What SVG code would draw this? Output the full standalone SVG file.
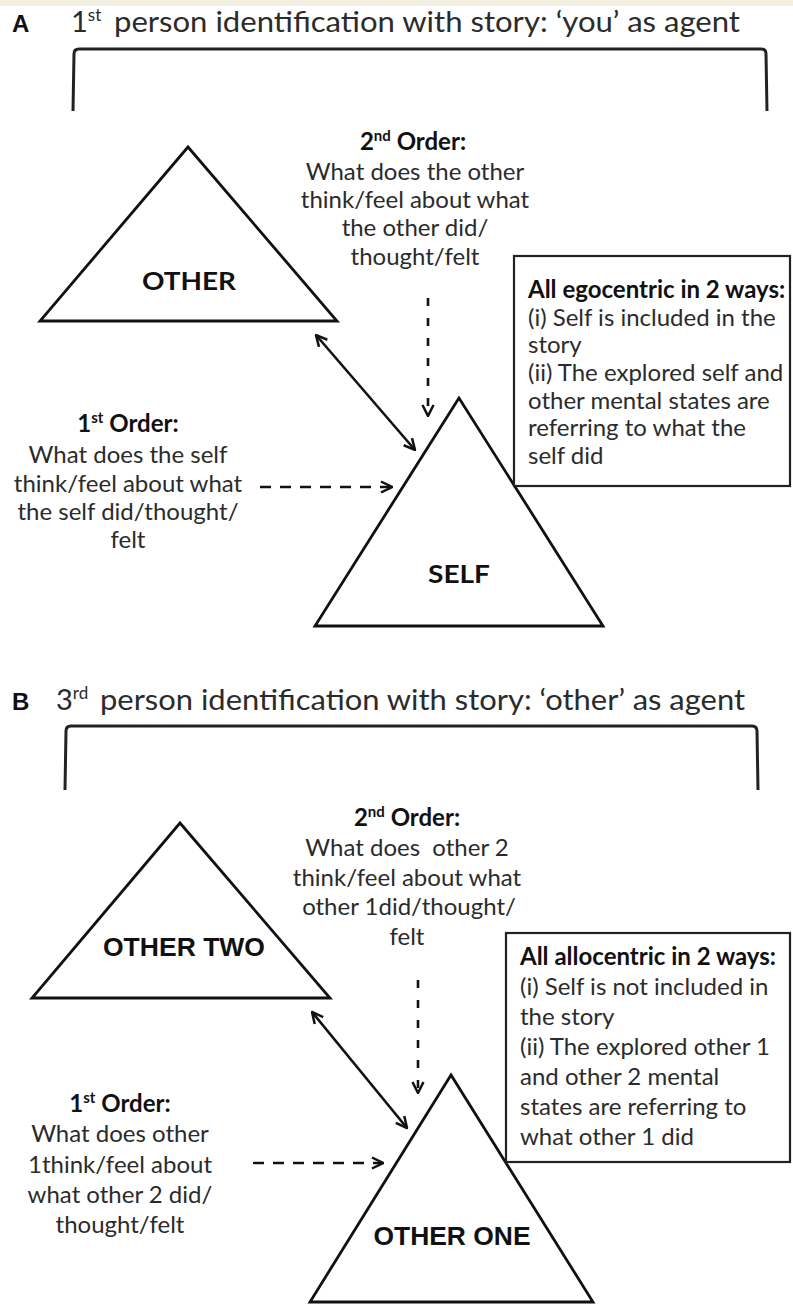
<svg xmlns="http://www.w3.org/2000/svg" width="793" height="1305" viewBox="0 0 793 1305">
<style>
.t{font-family:Lato,"Open Sans",sans-serif;font-size:24px;fill:#2b2b2b}
.b{font-weight:bold;fill:#111}
.ttl{font-family:Lato,"Open Sans",sans-serif;font-size:29px;fill:#2b2b2b}
.lab{font-family:"Liberation Sans",Arial,sans-serif;font-weight:bold;font-size:24px;fill:#111}
.ar{font-family:"Liberation Sans",Arial,sans-serif;font-weight:bold;font-size:25px;fill:#111}
.tri{fill:#fff;stroke:#111;stroke-width:2.8;stroke-linejoin:miter}
.box{fill:#fff;stroke:#222;stroke-width:2.2}
.br{fill:none;stroke:#222;stroke-width:3}
.c{fill:none;stroke:#111;stroke-width:2.6}
.d{fill:none;stroke:#111;stroke-width:2.3;stroke-dasharray:11 9}
.dv{fill:none;stroke:#111;stroke-width:2.6;stroke-dasharray:8 12}
</style>
<defs>
<marker id="ah" viewBox="0 0 14 14" refX="13" refY="7" markerWidth="14" markerHeight="14" markerUnits="userSpaceOnUse" orient="auto-start-reverse">
<path d="M2,1.5 L13,7 L2,12.5" fill="none" stroke="#111" stroke-width="2.5"/>
</marker>
</defs>
<rect x="0" y="0" width="793" height="1305" fill="#fff"/>
<rect x="0" y="0" width="793" height="6" fill="#f4f0e1"/>

<g id="panelA-title">
<text class="lab" x="12" y="32">A</text>
<text class="ttl" x="71" y="32">1<tspan font-size="17" dy="-11">st</tspan></text>
<text class="ttl" x="114" y="32" textLength="626" lengthAdjust="spacingAndGlyphs">person identification with story: ‘you’ as agent</text>
<path class="br" d="M73,111 L74,54 Q74,49 79,49 L761,49 Q766,49 766,54 L767,111"/>
</g>

<g id="other">
<polygon class="tri" points="188,147 40,321 337,321"/>
<text class="t b" x="189" y="290" text-anchor="middle" font-size="29" textLength="94" lengthAdjust="spacingAndGlyphs">OTHER</text>
</g>
<g id="self">
<polygon class="tri" points="459,398 315,626 603,626"/>
<text class="t b" x="459" y="583" text-anchor="middle" font-size="29" textLength="62" lengthAdjust="spacingAndGlyphs">SELF</text>
</g>

<g id="secondOrderA">
<text class="t b" x="413" y="150" text-anchor="middle">2<tspan font-size="15" dy="-9">nd</tspan><tspan dy="9"> Order:</tspan></text>
<text class="t" x="415" y="180" text-anchor="middle">What does the other</text>
<text class="t" x="415" y="208" text-anchor="middle">think/feel about what</text>
<text class="t" x="415" y="236" text-anchor="middle">the other did/</text>
<text class="t" x="415" y="265" text-anchor="middle">thought/felt</text>
</g>

<g id="firstOrderA">
<text class="t b" x="128" y="432" text-anchor="middle">1<tspan font-size="15" dy="-9">st</tspan><tspan dy="9"> Order:</tspan></text>
<text class="t" x="128" y="463" text-anchor="middle">What does the self</text>
<text class="t" x="128" y="492" text-anchor="middle">think/feel about what</text>
<text class="t" x="128" y="520" text-anchor="middle">the self did/thought/</text>
<text class="t" x="128" y="548" text-anchor="middle">felt</text>
</g>

<g id="boxA">
<rect class="box" x="514" y="256" width="276" height="230"/>
<text class="t b" x="528" y="298">All egocentric in 2 ways:</text>
<text class="t" x="528" y="326">(i) Self is included in the</text>
<text class="t" x="528" y="353">story</text>
<text class="t" x="528" y="381">(ii) The explored self and</text>
<text class="t" x="528" y="409">other mental states are</text>
<text class="t" x="528" y="436">referring to what the</text>
<text class="t" x="528" y="464">self did</text>
</g>

<g id="panelB-title">
<text class="lab" x="12" y="710">B</text>
<text class="ttl" x="56" y="710">3<tspan font-size="17" dy="-11">rd</tspan></text>
<text class="ttl" x="100" y="710" textLength="645" lengthAdjust="spacingAndGlyphs">person identification with story: ‘other’ as agent</text>
<path class="br" d="M65,790 L66,731 Q66,726 71,726 L752,726 Q757,726 757,731 L758,790"/>
</g>

<g id="otherTwo">
<polygon class="tri" points="180,823 32,998 330,998"/>
<text class="ar" x="184" y="956" text-anchor="middle" textLength="162" lengthAdjust="spacingAndGlyphs">OTHER TWO</text>
</g>
<g id="otherOne">
<polygon class="tri" points="451,1075 310,1302 593,1302"/>
<text class="ar" x="452" y="1245" text-anchor="middle" textLength="157" lengthAdjust="spacingAndGlyphs">OTHER ONE</text>
</g>

<g id="secondOrderB">
<text class="t b" x="407" y="826" text-anchor="middle">2<tspan font-size="15" dy="-9">nd</tspan><tspan dy="9"> Order:</tspan></text>
<text class="t" x="407" y="856" text-anchor="middle" xml:space="preserve">What does  other 2</text>
<text class="t" x="407" y="886" text-anchor="middle">think/feel about what</text>
<text class="t" x="409" y="915" text-anchor="middle">other 1did/thought/</text>
<text class="t" x="407" y="945" text-anchor="middle">felt</text>
</g>

<g id="firstOrderB">
<text class="t b" x="120" y="1112" text-anchor="middle">1<tspan font-size="15" dy="-9">st</tspan><tspan dy="9"> Order:</tspan></text>
<text class="t" x="120" y="1142" text-anchor="middle">What does other</text>
<text class="t" x="120" y="1173" text-anchor="middle">1think/feel about</text>
<text class="t" x="120" y="1203" text-anchor="middle">what other 2 did/</text>
<text class="t" x="120" y="1233" text-anchor="middle">thought/felt</text>
</g>

<g id="boxB">
<rect class="box" x="506" y="933" width="284" height="229"/>
<text class="t b" x="520" y="965">All allocentric in 2 ways:</text>
<text class="t" x="520" y="995">(i) Self is not included in</text>
<text class="t" x="520" y="1025">the story</text>
<text class="t" x="520" y="1055">(ii) The explored other 1</text>
<text class="t" x="520" y="1085">and other 2 mental</text>
<text class="t" x="520" y="1115">states are referring to</text>
<text class="t" x="520" y="1145">what other 1 did</text>
</g>

<g id="connectors">
<line class="c" x1="316" y1="335" x2="415" y2="450" marker-start="url(#ah)" marker-end="url(#ah)"/>
<line class="dv" x1="428" y1="298" x2="428" y2="416" marker-end="url(#ah)"/>
<line class="d" x1="260" y1="487" x2="392" y2="487" marker-end="url(#ah)"/>
<line class="c" x1="312" y1="1012" x2="407" y2="1128" marker-start="url(#ah)" marker-end="url(#ah)"/>
<line class="dv" x1="418" y1="980" x2="418" y2="1093" marker-end="url(#ah)"/>
<line class="d" x1="253" y1="1163" x2="383" y2="1163" marker-end="url(#ah)"/>
</g>
</svg>
